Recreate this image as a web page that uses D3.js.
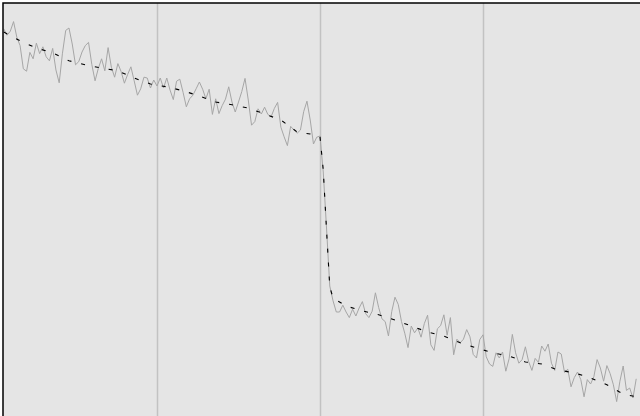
<!DOCTYPE html>
<html>
<head>
<meta charset="utf-8">
<script src="https://cdn.jsdelivr.net/npm/d3@7"></script>
<style>
  body { margin: 0; background: #fff; }
  svg { display: block; }
</style>
</head>
<body>
<svg width="640" height="416"></svg>
<script>
// raw series, one value per step starting at step 3
const rawStart = 3;
const rawValues = [
  96.8, 95.2, 96.2, 98.6, 94.7, 92.6, 86.8, 86.2, 90.9, 89.3,
  93.2, 90.6, 92.3, 89.8, 88.8, 91.9, 86.5, 83.3, 90.7, 96.4,
  97, 93, 87.8, 88.6, 91, 92.6, 93.4, 87.9, 83.8, 86.9,
  89.3, 86.3, 92.1, 87.2, 84.7, 88.1, 86.1, 83.2, 85.4, 87.3,
  83.8, 80.2, 81.8, 84.7, 84.5, 82, 84, 82.5, 84.5, 82,
  84.5, 81.5, 79.1, 83.7, 84.2, 80.9, 77.3, 79.3, 80.2, 81.8,
  83.5, 81.7, 79.3, 81.7, 75.4, 79.3, 75.6, 77.6, 79.2, 82.3,
  78.5, 76, 78.5, 81.1, 84.4, 79, 72.7, 73.6, 76.8, 75.5,
  77.2, 75.4, 74.8, 76.9, 78.4, 72.2, 69.8, 67.6, 72.4, 71.5,
  70.7, 71.5, 76.1, 78.7, 74, 68, 69.7, 70, 61, 47,
  32.5, 28.8, 26, 26, 27.7, 26, 24.6, 26.7, 25, 27,
  28.6, 25.6, 24.6, 26.2, 30.8, 27.1, 24.3, 23.6, 20, 26.1,
  29.7, 27.9, 23.6, 20.7, 17.1, 22.5, 20.8, 22, 19.7, 23.1,
  25.2, 17.8, 16.4, 21.8, 22.6, 25.3, 20.2, 24.6, 15.3, 19.2,
  18.3, 19.2, 21.6, 19.8, 15.4, 14.5, 19.1, 20.3, 14.8, 13,
  12.4, 15.8, 14.5, 16, 11.2, 14.3, 20.4, 15.8, 13.2, 14.1,
  17.3, 13.6, 11.4, 14.4, 13.4, 17.5, 16.2, 18, 13.2, 11.4,
  16, 15.5, 10.9, 11.7, 7.3, 9.6, 11, 9.1, 4.8, 9.1,
  8, 9.8, 14.1, 12, 8.7, 12.6, 10.6, 7.8, 3.6, 8.7,
  12.5, 6.4, 7, 4.5, 9.3
];

// smoothed series
const trendSteps = [3, 8, 13, 18, 23, 28, 33, 38, 43, 48, 53, 58, 63, 68, 73, 78, 83, 88, 93, 97,
  100, 101, 102, 103, 104, 108, 113, 118, 123, 128, 133, 138, 143, 148, 153, 158, 163, 168,
  173, 178, 183, 188, 193, 197];
const trendValues = [96, 93.8, 92, 90.8, 88.8, 87.8, 87, 86.3, 84.5, 83, 82.3, 81.3, 80, 78.5, 77.8, 77,
  75.5, 74, 71, 70.5, 69.8, 61.5, 46.5, 32.3, 29.5, 27.5, 26.3, 25.3, 24, 22.5, 21, 20,
  18.3, 17, 15.8, 15, 13.5, 13, 11.5, 10.8, 9.5, 7.8, 5.5, 4.8];

const gridTicks = [50, 100, 150];

const svg = d3.select("svg");
const width = +svg.attr("width");
const height = +svg.attr("height");

const padLeft = 3, padTop = 3;
const plotW = 700, plotH = 500;

const x = d3.scaleLinear().domain([0, 200]).range([-6, 646]);
const y = d3.scaleLinear().domain([0, 104]).range([416, 0]);

svg.append("defs").append("clipPath").attr("id", "clip")
  .append("rect").attr("x", padLeft).attr("y", padTop).attr("width", plotW).attr("height", plotH);

svg.append("rect")
  .attr("x", padLeft).attr("y", padTop)
  .attr("width", plotW).attr("height", plotH)
  .attr("fill", "#e5e5e5");

// vertical grid
const grid = svg.append("g")
  .attr("transform", `translate(0,${padTop})`)
  .call(d3.axisTop(x).tickValues(gridTicks).tickSize(-plotH).tickFormat(""));
grid.select(".domain").remove();
grid.selectAll("line").attr("stroke", "#c2c2c2").attr("stroke-width", 1.5);

const plot = svg.append("g").attr("clip-path", "url(#clip)");

const raw = rawValues.map((v, i) => ({ step: rawStart + i, value: v }));
const trend = trendSteps.map((s, i) => ({ step: s, value: trendValues[i] }));

const line = d3.line().x((d) => x(d.step)).y((d) => y(d.value));

plot.append("path")
  .datum(raw)
  .attr("fill", "none")
  .attr("stroke", "#a6a6a6")
  .attr("stroke-width", 1)
  .attr("d", line);

plot.append("path")
  .datum(trend)
  .attr("fill", "none")
  .attr("stroke", "#000")
  .attr("stroke-width", 1.1)
  .attr("stroke-dasharray", "4,10")
  .attr("d", line);

// frame: top and left edges only show in the window
svg.append("path")
  .attr("d", `M${padLeft},${height + 5}V${padTop}H${width + 5}`)
  .attr("fill", "none")
  .attr("stroke", "#000")
  .attr("stroke-width", 1.5);
</script>
</body>
</html>
